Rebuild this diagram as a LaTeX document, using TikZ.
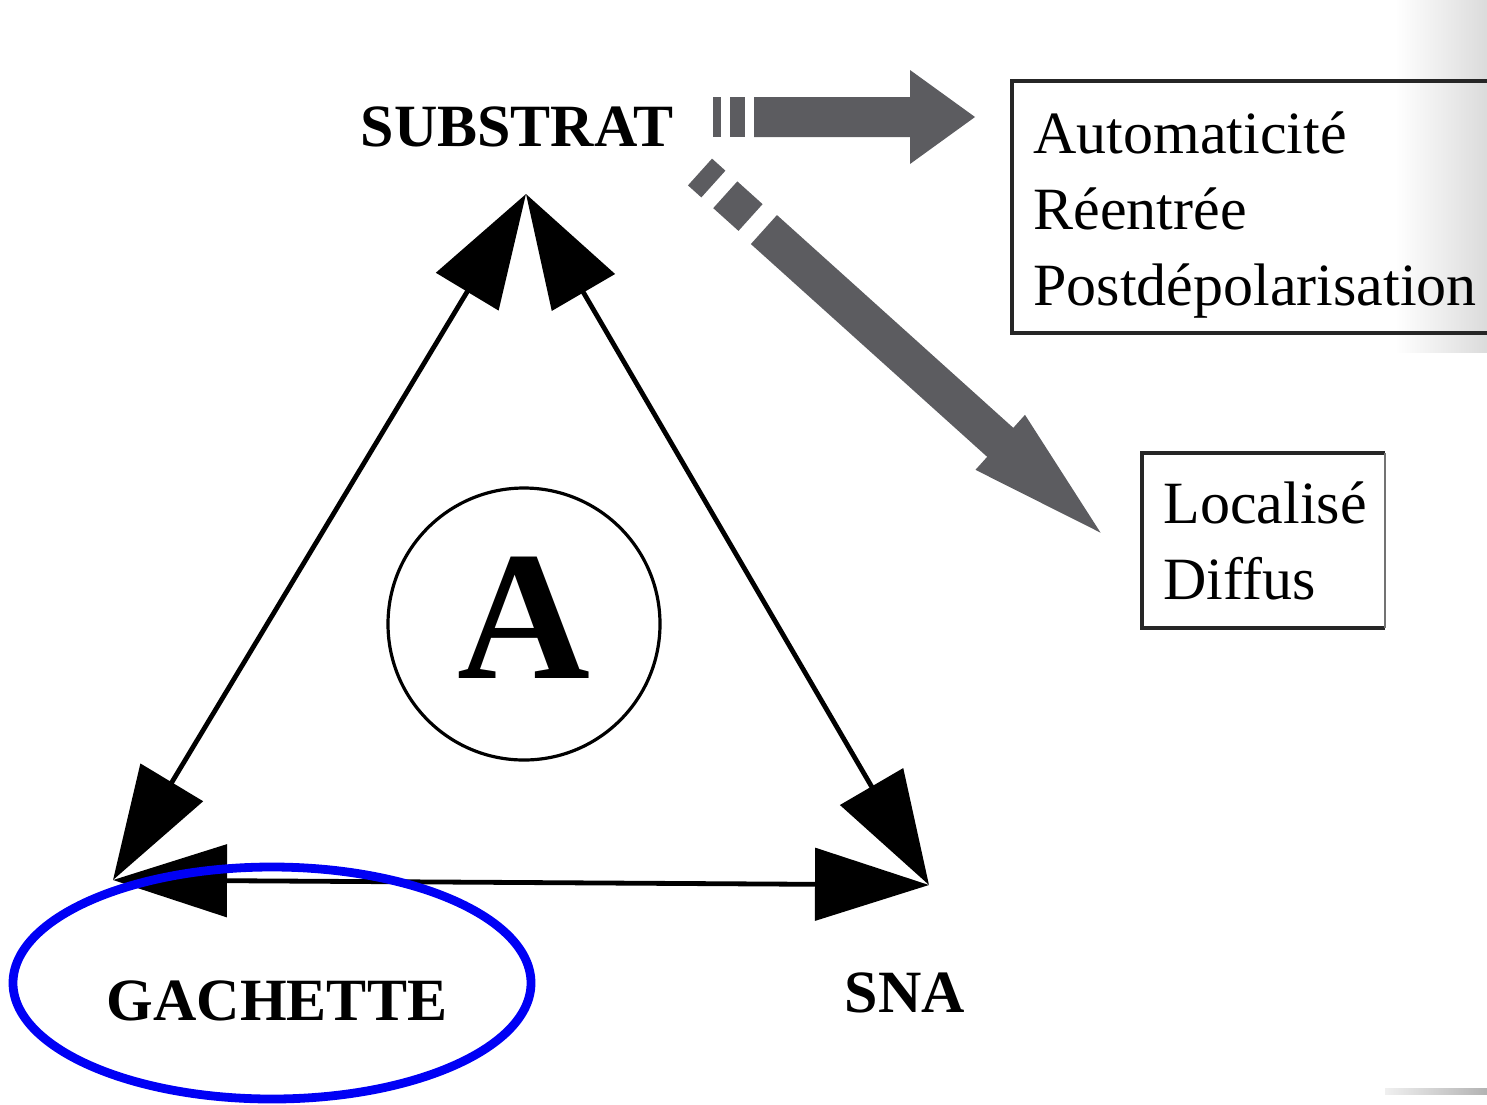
\documentclass[tikz,border=0pt]{standalone}
\usepackage{fontspec}
\setmainfont{Liberation Serif}
\usetikzlibrary{arrows.meta}
\definecolor{arrgray}{RGB}{92,92,96}
\definecolor{hiblue}{RGB}{0,0,245}

\begin{document}
\begin{tikzpicture}[x=0.5pt, y=-0.5pt,
    poletxt/.style={font=\fontsize{30}{36}\selectfont\bfseries, inner sep=0pt, anchor=base},
    listtxt/.style={font=\fontsize{30}{38}\selectfont, inner sep=0pt, anchor=base west},
    dblarrow/.style={line width=2.4pt, {Triangle[length=57pt,width=36pt]}-{Triangle[length=57pt,width=36pt]}},
    boxline/.style={line width=2pt, black!85},
    blockarrow/.style={fill=arrgray, draw=none},
    ring/.style={circle, draw, line width=1.6pt, minimum size=136pt, inner sep=0pt}]
  \useasboundingbox (0,0) rectangle (1487,1104);

  % scanned page edge
  \shade[left color=white, right color=black!14] (1395,0) rectangle (1487,352);
  \shade[left color=black!6, right color=black!30] (1385,1088) rectangle (1487,1094);

  % poles of the triangle
  \node[poletxt] (substrat) at (517,146) {SUBSTRAT};
  \node[poletxt] (gachette) at (277,1020) {GACHETTE};
  \node[poletxt] (sna) at (905,1012) {SNA};

  \coordinate (apex) at (526,194);
  \coordinate (cg) at (113,880);
  \coordinate (cs) at (929,885);

  \draw[dblarrow] (apex) -- (cg);
  \draw[dblarrow] (apex) -- (cs);
  \draw[dblarrow] (cg) -- (cs);

  \node[ring] (ring) at (524,624) {};
  \node[font=\fontsize{92}{92}\selectfont\bfseries, inner sep=0pt, anchor=base] (A) at (524,678) {A};

  % mechanisms
  \node[listtxt] (meca) at (1033,153) {\begin{tabular}[t]{@{}l@{}}Automaticité\\Réentrée\\Postdépolarisation\end{tabular}};
  \draw[boxline] (1487,81) -- (1012,81) -- (1012,333) -- (1487,333);

  \node[listtxt] (loca) at (1163,523) {\begin{tabular}[t]{@{}l@{}}Localisé\\Diffus\end{tabular}};
  \draw[boxline] (1385,453) -- (1142,453) -- (1142,628) -- (1385,628);
  \draw[line width=1.2pt, black!55] (1385,453) -- (1385,628);

  % grey block arrows
  \fill[blockarrow] (713,97) -- (721,97) -- (721,137) -- (713,137) -- cycle;
  \fill[blockarrow] (730,97) -- (745,97) -- (745,137) -- (730,137) -- cycle;
  \fill[blockarrow] (754,97) -- (910,97) -- (910,70) -- (975,117) -- (910,164) -- (910,137) -- (754,137) -- cycle;

  \begin{scope}[shift={(700,172)}, rotate=-42]
    \fill[blockarrow] (0,-18) -- (18,-18) -- (18,18) -- (0,18) -- cycle;
    \fill[blockarrow] (34,-18) -- (68,-18) -- (68,18) -- (34,18) -- cycle;
    \fill[blockarrow] (86,-19.5) -- (404,-19.5) -- (404,-37) -- (539,0) -- (404,37) -- (404,19.5) -- (86,19.5) -- cycle;
  \end{scope}

  % highlight
  \draw[hiblue, line width=4.4pt] (272,983) ellipse [x radius=259, y radius=116];
\end{tikzpicture}
\end{document}
